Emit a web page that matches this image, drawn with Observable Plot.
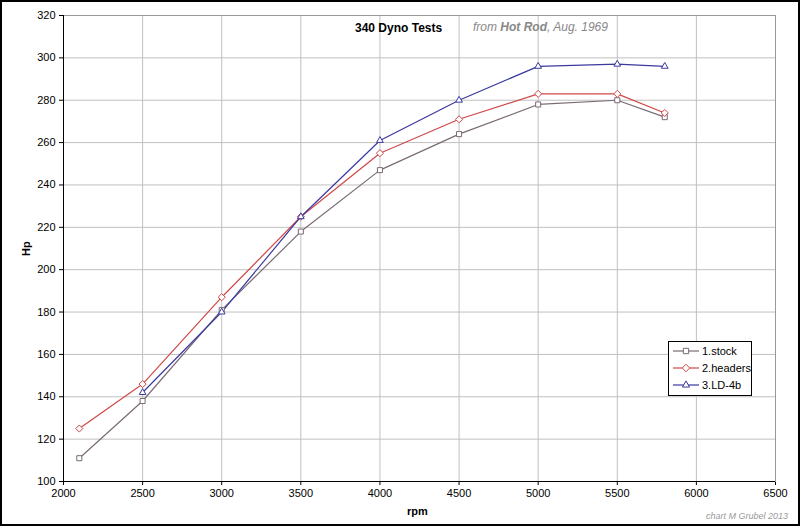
<!DOCTYPE html>
<html><head><meta charset="utf-8">
<script src="https://cdn.jsdelivr.net/npm/d3@7"></script>
<script src="https://cdn.jsdelivr.net/npm/@observablehq/plot@0.6"></script>
<style>
body{margin:0;background:#fff;font-family:"Liberation Sans",Arial,sans-serif;}
#wrap{position:relative;width:800px;height:526px;overflow:hidden;}
#border{position:absolute;left:0;top:0;width:796px;height:522px;border:2px solid #000;pointer-events:none;}
.t{position:absolute;white-space:nowrap;}
</style></head><body>
<div id="wrap">
<div id="chart"></div>
<div class="t" style="left:355px;top:21px;font-size:12px;font-weight:bold;color:#000">340 Dyno Tests</div>
<div class="t" style="left:473px;top:20px;font-size:12px;font-style:italic;color:#888">from <b>Hot Rod</b>, Aug. 1969</div>
<div class="t" style="left:20px;top:248px;font-size:11px;font-weight:bold;transform:rotate(-90deg);transform-origin:left top;top:256px">Hp</div>
<div class="t" style="left:407px;top:505px;font-size:11px;font-weight:bold">rpm</div>
<div class="t" style="left:706px;top:511px;font-size:9px;font-style:italic;color:#999">chart M Grubel 2013</div>
<div id="legend" style="position:absolute;left:668px;top:341px;width:82px;height:53px;border:1px solid #000;background:#fff"></div>
<div id="border"></div>
</div>
<script>
const rpm = [2100, 2500, 3000, 3500, 4000, 4500, 5000, 5500, 5800];
const stock = [111, 138, 181, 218, 247, 264, 278, 280, 272];
const headers = [125, 146, 187, 225, 255, 271, 283, 283, 274];
const ld4b = [null, 142, 180, 225, 261, 280, 296, 297, 296];
const seriesNames = ["1.stock", "2.headers", "3.LD-4b"];
const seriesColors = ["#7a6a74", "#d04848", "#3a3aa0"];
const seriesSymbols = ["square2", "diamond2", "triangle2"];
const xTicks = [2000, 2500, 3000, 3500, 4000, 4500, 5000, 5500, 6000, 6500];
const yTicks = [100, 120, 140, 160, 180, 200, 220, 240, 260, 280, 300, 320];

const allSeries = [stock, headers, ld4b];
const data = [];
allSeries.forEach((vals, si) => {
  vals.forEach((v, i) => { if (v != null) data.push({rpm: rpm[i], hp: v, s: seriesNames[si]}); });
});

const color = {domain: seriesNames, range: seriesColors};
const chart = Plot.plot({
  width: 800, height: 526,
  marginLeft: 63, marginRight: 25, marginTop: 15, marginBottom: 45,
  style: {fontFamily: "'Liberation Sans', Arial, sans-serif", fontSize: "11px", color: "#000", background: "transparent"},
  x: {domain: [2000, 6500], ticks: xTicks, tickSize: 4, tickPadding: 4, label: null, tickFormat: d => String(d)},
  y: {domain: [100, 320], ticks: yTicks, tickSize: 4, tickPadding: 4, label: null},
  color,
  symbol: {domain: seriesNames, range: seriesSymbols},
  marks: [
    Plot.gridX(xTicks, {stroke: "#c0c0c0", strokeOpacity: 1}),
    Plot.gridY(yTicks, {stroke: "#c0c0c0", strokeOpacity: 1}),
    Plot.frame({stroke: "#999"}),
    Plot.ruleX([2000], {stroke: "#000"}),
    Plot.ruleY([100], {stroke: "#000"}),
    Plot.line(data, {x: "rpm", y: "hp", z: "s", stroke: "s", strokeWidth: 1.2}),
    Plot.dot(data, {x: "rpm", y: "hp", symbol: "s", stroke: "s", fill: "white", r: 3.2, strokeWidth: 1})
  ]
});
document.getElementById("chart").appendChild(chart);

// legend
const lg = d3.select("#legend").append("svg").attr("width", 82).attr("height", 53);
const symGen = {"square2": d3.symbolSquare2, "diamond2": d3.symbolDiamond2, "triangle2": d3.symbolTriangle2};
seriesNames.forEach((n, i) => {
  const y = 9 + i * 17;
  lg.append("line").attr("x1", 4).attr("x2", 30).attr("y1", y).attr("y2", y).attr("stroke", seriesColors[i]).attr("stroke-width", 1.2);
  lg.append("path").attr("d", d3.symbol(symGen[seriesSymbols[i]], 36)()).attr("transform", `translate(17,${y})`).attr("fill", "white").attr("stroke", seriesColors[i]);
  lg.append("text").attr("x", 33).attr("y", y + 4).attr("font-size", 11).attr("font-family", "'Liberation Sans', Arial, sans-serif").text(n);
});
</script>
</body></html>
